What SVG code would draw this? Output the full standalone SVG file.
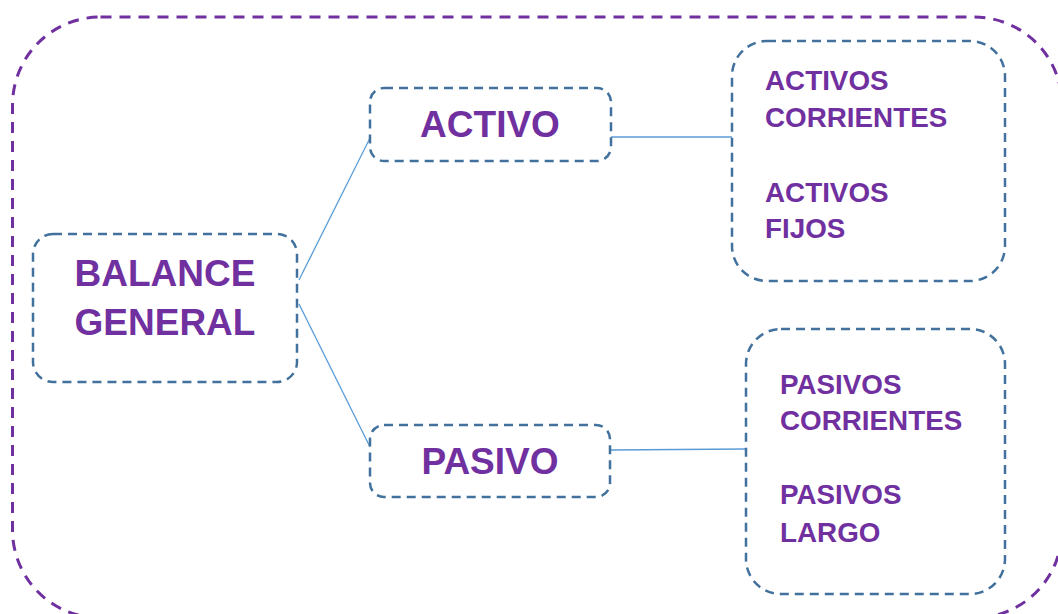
<svg xmlns="http://www.w3.org/2000/svg" width="1058" height="614" viewBox="0 0 1058 614">
<style>
.outer{fill:none;stroke:#7030A0;stroke-width:3;stroke-dasharray:11 8}
.box{fill:#FFFFFF;stroke:#41719C;stroke-width:2.5;stroke-dasharray:9 6}
.conn{fill:none;stroke:#5B9BD5;stroke-width:1.3}
.big{font-family:"Liberation Sans",Arial,sans-serif;font-weight:bold;font-size:37px;fill:#7030A0}
.small{font-family:"Liberation Sans",Arial,sans-serif;font-weight:bold;font-size:27.8px;fill:#7030A0}
</style>
<rect width="1058" height="614" fill="#FFFFFF"/>
<rect class="outer" x="12.5" y="17" width="1049.5" height="601" rx="88" ry="88"/>
<g id="connectors">
<line class="conn" x1="299" y1="280" x2="370" y2="138"/>
<line class="conn" x1="299" y1="304" x2="370" y2="447"/>
<line class="conn" x1="611" y1="137" x2="732" y2="137"/>
<line class="conn" x1="610" y1="450" x2="746" y2="449"/>
</g>
<g id="balance">
<rect class="box" x="33" y="234" width="264" height="148" rx="20" ry="20"/>
<text class="big" x="165" y="286" text-anchor="middle">BALANCE</text>
<text class="big" x="165" y="335" text-anchor="middle">GENERAL</text>
</g>
<g id="activo">
<rect class="box" x="370" y="88" width="241" height="73" rx="14" ry="14"/>
<text class="big" x="490" y="137" text-anchor="middle">ACTIVO</text>
</g>
<g id="pasivo">
<rect class="box" x="370" y="425" width="240" height="72" rx="14" ry="14"/>
<text class="big" x="490" y="474" text-anchor="middle">PASIVO</text>
</g>
<g id="activos">
<rect class="box" x="732" y="41" width="273" height="240" rx="35" ry="35"/>
<text class="small" x="765" y="90">ACTIVOS</text>
<text class="small" x="765" y="127">CORRIENTES</text>
<text class="small" x="765" y="202">ACTIVOS</text>
<text class="small" x="765" y="238">FIJOS</text>
</g>
<g id="pasivos">
<rect class="box" x="746" y="329" width="259" height="265" rx="35" ry="35"/>
<text class="small" x="780" y="394">PASIVOS</text>
<text class="small" x="780" y="430">CORRIENTES</text>
<text class="small" x="780" y="504">PASIVOS</text>
<text class="small" x="780" y="542">LARGO</text>
</g>
</svg>
